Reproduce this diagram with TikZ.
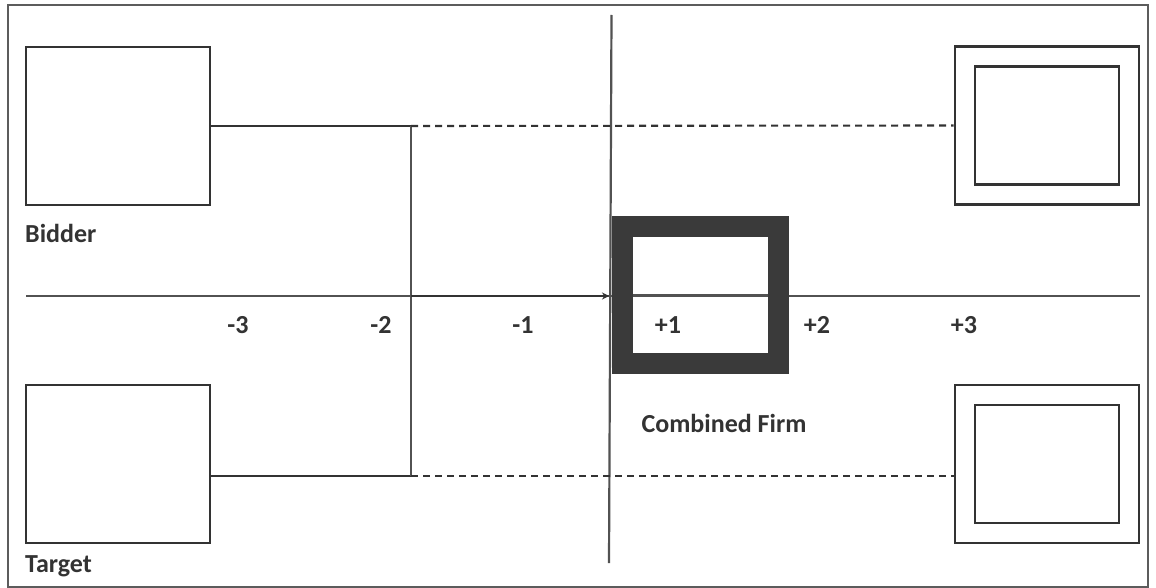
\documentclass[tikz,border=0pt]{standalone}
\usepackage{fontspec}
\setmainfont{Carlito}
\usetikzlibrary{arrows.meta,calc}
\definecolor{ink}{HTML}{333333}
\definecolor{firm}{HTML}{3A3A3A}
\begin{document}
\begin{tikzpicture}[x=1pt,y=-1pt,
  firmbox/.style={draw=ink,line width=2.8pt,minimum width=184pt,minimum height=158pt,inner sep=0pt},
  innerbox/.style={draw=ink,line width=2.8pt,minimum width=144pt,minimum height=118pt,inner sep=0pt},
  combbox/.style={draw=firm,line width=21pt,minimum width=156pt,minimum height=137pt,inner sep=0pt},
  lbl/.style={font=\fontsize{26}{30}\selectfont\bfseries,text=ink,inner sep=0pt},
  solidln/.style={draw=ink,line width=2.1pt},
  dashln/.style={draw=ink,line width=2.1pt,dash pattern=on 7pt off 5pt},
  axisln/.style={draw=ink!85,line width=2.2pt}]
\useasboundingbox (0,0) rectangle (1156,588);
\fill[white] (0,0) rectangle (1156,588);
\node[draw=ink!80,line width=1.6pt,minimum width=1140pt,minimum height=582pt,inner sep=0pt] (frame) at (578,296) {};
% boxes
\node[firmbox] (bidder) at (118,126) {};
\node[firmbox] (target) at (118,464) {};
\node[firmbox] (rt) at (1047,125.5) {};
\node[innerbox] (rti) at (1047,125.5) {};
\node[firmbox] (rb) at (1047,464) {};
\node[innerbox] (rbi) at (1047,464) {};
% labels
\node[lbl,anchor=west] (lbid) at (25,233) {Bidder};
\node[lbl,anchor=west] (ltar) at (25,566) {Target};
\node[lbl] (lcomb) at (724,423) {Combined Firm};
\node[lbl] (m3) at (238,325) {-3};
\node[lbl] (m2) at (381,325) {-2};
\node[lbl] (m1) at (523,325) {-1};
\node[lbl] (p1) at (668,325) {+1};
\node[lbl] (p2) at (817,325) {+2};
\node[lbl] (p3) at (964,325) {+3};
% coordinates
\coordinate (j1) at (411,126);
\coordinate (j2) at (411,476);
\coordinate (ax0) at (26,296);
\coordinate (ax1) at (1140,296);
\coordinate (axj) at (411,296);
\coordinate (ev) at (609,296);
\coordinate (vtop) at (611.5,15);
\coordinate (vbot) at (609,563);
% axis and timeline
\draw[axisln] (ax0) -- (ax1);
\draw[axisln] (vtop) -- (vbot);
% connectors
\draw[solidln] (bidder.east) -- (j1);
\draw[solidln] (target.east |- j2) -- (j2);
\draw[axisln] (j1) -- (j2);
\draw[dashln] (j1) -- (rt.west);
\draw[dashln] (j2) -- (rb.west |- j2);
\draw[draw=ink,line width=2.8pt,-{Stealth[length=7pt,width=7pt]}] (axj) -- (ev);
% combined firm
\node[combbox] (comb) at (700.5,295) {};
\draw[axisln] (comb.center -| 633,0) -- (comb.center -| 768,0);
\end{tikzpicture}
\end{document}
